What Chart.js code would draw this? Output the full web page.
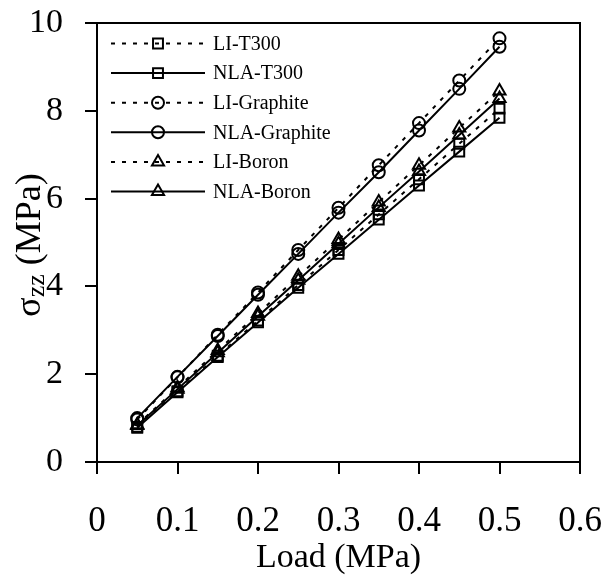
<!DOCTYPE html>
<html>
<head>
<meta charset="utf-8">
<script src="https://cdn.jsdelivr.net/npm/chart.js@4.4.1/dist/chart.umd.min.js"></script>
<style>
  body { margin: 0; background: #fff; }
</style>
</head>
<body>
<canvas id="chart" width="606" height="578"></canvas>
<script>

// load values on the x axis (MPa)
const loads = [0.05, 0.1, 0.15, 0.2, 0.25, 0.3, 0.35, 0.4, 0.45, 0.5];

// sigma zz values (MPa)
const liT300 = [0.80, 1.61, 2.42, 3.22, 4.03, 4.83, 5.64, 6.44, 7.25, 8.05];
const nlaT300 = [0.78, 1.59, 2.39, 3.18, 3.97, 4.74, 5.52, 6.30, 7.07, 7.84];
const liGraphite = [0.97, 1.93, 2.90, 3.86, 4.83, 5.79, 6.76, 7.72, 8.69, 9.65];
const nlaGraphite = [1.00, 1.94, 2.87, 3.81, 4.74, 5.68, 6.60, 7.55, 8.50, 9.46];
const liBoron = [0.85, 1.69, 2.54, 3.38, 4.23, 5.07, 5.92, 6.76, 7.61, 8.45];
const nlaBoron = [0.83, 1.66, 2.49, 3.32, 4.14, 4.97, 5.80, 6.62, 7.45, 8.28];

const seriesNames = ['LI-T300', 'NLA-T300', 'LI-Graphite', 'NLA-Graphite', 'LI-Boron', 'NLA-Boron'];
const seriesValues = [liT300, nlaT300, liGraphite, nlaGraphite, liBoron, nlaBoron];
const seriesMarkers = ['rect', 'rect', 'circle', 'circle', 'triangle', 'triangle'];

const xTicks = [0, 0.1, 0.2, 0.3, 0.4, 0.5, 0.6];
const yTicks = [0, 2, 4, 6, 8, 10];

const serif = "'Liberation Serif', 'Times New Roman', serif";

function markerRadius(style) {
  if (style === 'circle') return 6;
  return 7;
}

// one dataset per series, LI ones dashed, NLA ones solid
let datasets = seriesNames.map((name, i) => {
  return {
    label: name,
    data: loads.map((x, j) => ({ x: x, y: seriesValues[i][j] })),
    showLine: true,
    borderColor: '#000',
    borderWidth: 2,
    borderDash: name.startsWith('LI') ? [4, 7] : [],
    backgroundColor: 'rgba(0,0,0,0)',
    pointStyle: seriesMarkers[i],
    pointRadius: markerRadius(seriesMarkers[i]),
    pointBorderWidth: 2,
    pointBorderColor: '#000',
    pointBackgroundColor: 'rgba(0,0,0,0)'
  };
});

// frame on top and right, y title with subscript, and a legend with line + marker
const extrasPlugin = {
  id: 'extras',
  afterDraw(chart) {
    const ctx = chart.ctx;
    const area = chart.chartArea;

    ctx.save();
    ctx.strokeStyle = '#000';
    ctx.lineWidth = 2;
    ctx.beginPath();
    ctx.moveTo(area.left, area.top);
    ctx.lineTo(area.right, area.top);
    ctx.lineTo(area.right, area.bottom);
    ctx.stroke();

    // y axis title: sigma_zz (MPa)
    ctx.translate(40, 245);
    ctx.rotate(-Math.PI / 2);
    ctx.fillStyle = '#000';
    ctx.textBaseline = 'alphabetic';
    const main = '36px ' + serif;
    const sub = '26px ' + serif;
    ctx.font = main;
    const wSig = ctx.measureText('σ').width;
    const wRest = ctx.measureText(' (MPa)').width;
    ctx.font = sub;
    const wSub = ctx.measureText('zz').width;
    let x0 = -(wSig + wSub + wRest) / 2;
    ctx.font = main;
    ctx.fillText('σ', x0, 0);
    ctx.font = sub;
    ctx.fillText('zz', x0 + wSig, 4);
    ctx.font = main;
    ctx.fillText(' (MPa)', x0 + wSig + wSub, 0);
    ctx.restore();

    // legend
    ctx.save();
    ctx.font = '20px ' + serif;
    ctx.textBaseline = 'middle';
    chart.data.datasets.forEach((ds, i) => {
      const y = 43.5 + i * 29.6;
      ctx.strokeStyle = '#000';
      ctx.lineWidth = 2;
      ctx.setLineDash(ds.borderDash);
      ctx.beginPath();
      ctx.moveTo(111, y);
      ctx.lineTo(205, y);
      ctx.stroke();
      ctx.setLineDash([]);
      ctx.fillStyle = 'rgba(0,0,0,0)';
      Chart.helpers.drawPoint(ctx, {
        pointStyle: ds.pointStyle,
        radius: ds.pointRadius,
        rotation: 0,
        borderWidth: 2
      }, 158, y);
      ctx.fillStyle = '#000';
      ctx.fillText(ds.label, 213, y + 1);
    });
    ctx.restore();
  }
};

let canvas = document.getElementById('chart');

let chart = new Chart(canvas, {
  type: 'scatter',
  data: { datasets: datasets },
  options: {
    responsive: false,
    animation: false,
    layout: {
      padding: { top: 23, right: 26, left: 0, bottom: 0 }
    },
    scales: {
      x: {
        type: 'linear',
        min: 0,
        max: 0.6,
        afterBuildTicks: axis => { axis.ticks = xTicks.map(v => ({ value: v })); },
        afterFit: axis => {
          axis.height = 116;
          axis.paddingLeft = 0;   // labels may overhang, keep plot edges fixed
          axis.paddingRight = 0;
        },
        ticks: {
          color: '#000',
          font: { family: serif, size: 35 },
          padding: 27,
          callback: v => String(v)
        },
        grid: { drawOnChartArea: false, drawTicks: true, tickLength: 12, color: '#000', lineWidth: 2 },
        border: { color: '#000', width: 2 },
        title: {
          display: true,
          text: 'Load (MPa)',
          color: '#000',
          font: { family: serif, size: 34 },
          padding: { top: 0, bottom: 0 }
        }
      },
      y: {
        type: 'linear',
        min: 0,
        max: 10,
        afterBuildTicks: axis => { axis.ticks = yTicks.map(v => ({ value: v })); },
        afterFit: axis => {
          axis.width = 97;
          axis.paddingTop = 0;
          axis.paddingBottom = 0;
        },
        ticks: {
          color: '#000',
          font: { family: serif, size: 34 },
          padding: 22,
          callback: v => String(v)
        },
        grid: { drawOnChartArea: false, drawTicks: true, tickLength: 12, color: '#000', lineWidth: 2 },
        border: { color: '#000', width: 2 }
      }
    },
    plugins: {
      legend: { display: false },
      tooltip: { enabled: false }
    }
  },
  plugins: [extrasPlugin]
});
</script>
</body>
</html>
